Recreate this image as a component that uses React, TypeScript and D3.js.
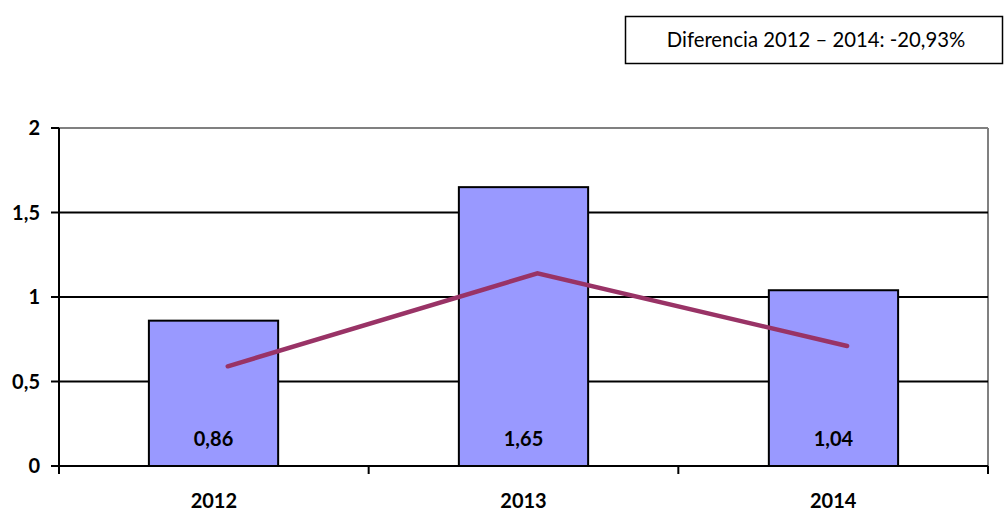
import React from "react";
import * as d3 from "d3";

const years = ["2012", "2013", "2014"];
const barValues = [0.86, 1.65, 1.04];
const lineValues = [0.59, 1.14, 0.71];
const yTicks = [0, 0.5, 1, 1.5, 2];
const yTickLabels = ["0", "0,5", "1", "1,5", "2"];
const noteText = "Diferencia 2012 – 2014: -20,93%";

const W = 1005;
const H = 511;
const left = 59;
const right = 988;
const top = 128;
const bottom = 466;
const font = "Lato, 'Open Sans', sans-serif";

export default function App() {
  const x = d3.scaleBand<string>().domain(years).range([left, right]).paddingInner(0.583).paddingOuter(0.29);
  const cat = d3.scaleBand<string>().domain(years).range([left, right]);
  const y = d3.scaleLinear().domain([0, 2]).range([bottom, top]);
  const fmt = (v: number) => v.toFixed(2).replace(".", ",");
  const lineOffset = cat.bandwidth() * 0.045;
  const line = d3
    .line<number>()
    .x((_, i) => (cat(years[i]) as number) + cat.bandwidth() / 2 + lineOffset)
    .y((v) => y(v));

  return (
    <svg width={W} height={H} style={{ position: "absolute", left: 0, top: 0, background: "#fff" }}>
      {/* note box */}
      <rect x={625.5} y={16.5} width={377} height={47} fill="#fff" stroke="#000" strokeWidth={1.5} />
      <text x={816} y={47} textAnchor="middle" fontFamily={font} fontSize={20.3} fill="#000">
        {noteText}
      </text>

      {/* plot frame */}
      <line x1={left} x2={right} y1={y(2)} y2={y(2)} stroke="#808080" strokeWidth={2} />
      <line x1={right} x2={right} y1={top} y2={bottom} stroke="#808080" strokeWidth={2} />

      {/* grid lines */}
      {yTicks.slice(1, -1).map((t) => (
        <line key={t} x1={left} x2={right} y1={y(t)} y2={y(t)} stroke="#000" strokeWidth={2} />
      ))}

      {/* bars */}
      {years.map((yr, i) => (
        <rect
          key={yr}
          x={x(yr)}
          y={y(barValues[i])}
          width={x.bandwidth()}
          height={bottom - y(barValues[i])}
          fill="#9999FF"
          stroke="#000"
          strokeWidth={2}
        />
      ))}

      {/* value labels */}
      {years.map((yr, i) => (
        <text
          key={yr}
          x={(x(yr) as number) + x.bandwidth() / 2}
          y={446}
          textAnchor="middle"
          fontFamily={font}
          fontWeight="bold"
          fontSize={20}
          fill="#000"
        >
          {fmt(barValues[i])}
        </text>
      ))}

      {/* line series */}
      <path d={line(lineValues) ?? ""} fill="none" stroke="#993366" strokeWidth={4.5} strokeLinecap="round" strokeLinejoin="miter" />

      {/* y axis */}
      <line x1={left} x2={left} y1={top} y2={bottom + 1} stroke="#000" strokeWidth={2} />
      {yTicks.map((t, i) => (
        <g key={t}>
          <line x1={left - 8} x2={left} y1={y(t)} y2={y(t)} stroke="#000" strokeWidth={2} />
          <text
            x={40}
            y={y(t) + 7}
            textAnchor="end"
            fontFamily={font}
            fontWeight="bold"
            fontSize={20}
            fill="#000"
          >
            {yTickLabels[i]}
          </text>
        </g>
      ))}

      {/* x axis */}
      <line x1={left - 8} x2={right} y1={bottom} y2={bottom} stroke="#000" strokeWidth={2} />
      {years.concat(["end"]).map((yr, i) => {
        const px = i < years.length ? (cat(yr) as number) : right;
        return <line key={yr} x1={px} x2={px} y1={bottom} y2={bottom + 8} stroke="#000" strokeWidth={2} />;
      })}
      {years.map((yr) => (
        <text
          key={yr}
          x={(cat(yr) as number) + cat.bandwidth() / 2}
          y={508}
          textAnchor="middle"
          fontFamily={font}
          fontWeight="bold"
          fontSize={20}
          fill="#000"
        >
          {yr}
        </text>
      ))}
    </svg>
  );
}
